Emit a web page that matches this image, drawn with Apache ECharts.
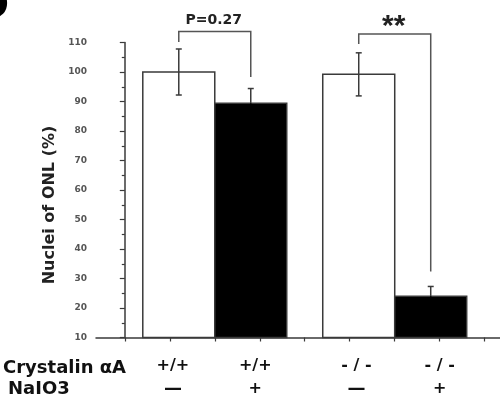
<!DOCTYPE html>
<html><head><meta charset="utf-8">
<script src="https://cdn.jsdelivr.net/npm/echarts@6/dist/echarts.min.js"></script>
<style>html,body{margin:0;padding:0;background:#fff}#c{width:500px;height:398px}</style>
</head><body><div id="c"></div>
<script>
// ---- data ----
const crystalin = ['+/+', '+/+', '- / -', '- / -'];
const naio3 = ['\u2014', '+', '\u2014', '+'];
const barX = [1.2, 2.8, 5.2, 6.8];          // bar centres on the x value axis
const values = [100, 89.4, 99.2, 24.0];
const errors = [7.8, 5.0, 7.3, 3.3];
const treated = [false, true, false, true];  // black bars = NaIO3 treated
const labelX = [1.07, 2.9, 5.15, 7.0];
const xTicks = [0, 1, 2, 3, 4, 5, 6, 7, 8];
const bracketPairs = [[0, 1], [2, 3]];
const bracketTop = [113.75, 112.85];
const bracketLeftEnd = [110.2, 109.5];
const bracketRightEnd = [98.3, 32.4];
const bracketText = ['P=0.27', '**'];

const BAR_W = 1.6;
const LINE = '#3a3a3a';
const FONT = 'DejaVu Sans, Liberation Sans, Arial';

const chart = echarts.init(document.getElementById('c'), null, {renderer: 'canvas'});

const option = {
  animation: false,
  backgroundColor: '#fff',
  grid: {left: 96, top: 42.5, width: 406, height: 298.5, containLabel: false},
  xAxis: {
    type: 'value', min: -0.64, max: 8.34,
    axisLine: {show: true, lineStyle: {color: LINE, width: 1.5}},
    axisTick: {show: true, customValues: xTicks, length: 4, inside: false, lineStyle: {color: LINE, width: 1.2}},
    axisLabel: {
      show: true, customValues: labelX, margin: 17,
      formatter: function (v) {
        let idx = 0, best = 1e9;
        labelX.forEach((p, i) => { const d = Math.abs(p - v); if (d < best) { best = d; idx = i; } });
        const second = naio3[idx] === '\u2014' ? '{d|' + naio3[idx] + '}' : '{b|' + naio3[idx] + '}';
        return '{a|' + crystalin[idx] + '}\n' + second;
      },
      rich: {
        a: {fontFamily: FONT, fontWeight: 'bold', fontSize: 16, color: '#111', lineHeight: 23},
        b: {fontFamily: FONT, fontWeight: 'bold', fontSize: 16, color: '#111', lineHeight: 23},
        d: {fontFamily: FONT, fontWeight: 'bold', fontSize: 18, color: '#111', lineHeight: 23}
      }
    },
    splitLine: {show: false}
  },
  yAxis: {
    type: 'value', min: 10, max: 110, interval: 10,
    axisLine: {show: true, lineStyle: {color: LINE, width: 1.5}},
    axisTick: {show: true, length: 5, inside: false, lineStyle: {color: LINE, width: 1.2}},
    minorTick: {show: true, splitNumber: 2, length: 3, lineStyle: {color: LINE, width: 1.2}},
    axisLabel: {fontFamily: FONT, fontWeight: 'bold', fontSize: 9, color: '#555', margin: 9},
    splitLine: {show: false}
  },
  series: [
    {
      type: 'custom', name: 'bars', clip: false, z: 2,
      data: values.map((v, i) => [barX[i], v, i]),
      encode: {x: 0, y: 1},
      renderItem: function (params, api) {
        const x = api.value(0), v = api.value(1), i = api.value(2);
        const p1 = api.coord([x - BAR_W / 2, v]);
        const p2 = api.coord([x + BAR_W / 2, 10]);
        return {
          type: 'rect',
          shape: {x: p1[0], y: p1[1], width: p2[0] - p1[0], height: p2[1] - p1[1]},
          style: {fill: treated[i] ? '#000' : '#fff', stroke: LINE, lineWidth: 1.5}
        };
      }
    },
    {
      type: 'custom', name: 'errors', clip: false, z: 3,
      data: values.map((v, i) => [barX[i], v, errors[i], i]),
      encode: {x: 0, y: 1},
      renderItem: function (params, api) {
        const x = api.value(0), v = api.value(1), e = api.value(2), i = api.value(3);
        const c = api.coord([x, v]);
        const t = api.coord([x, v + e]);
        const b = api.coord([x, v - e]);
        const low = treated[i] ? '#000' : LINE;
        return {
          type: 'group',
          children: [
            {type: 'line', shape: {x1: c[0], y1: c[1], x2: t[0], y2: t[1]}, style: {stroke: LINE, lineWidth: 1.5}},
            {type: 'line', shape: {x1: t[0] - 3, y1: t[1], x2: t[0] + 3, y2: t[1]}, style: {stroke: LINE, lineWidth: 1.5}},
            {type: 'line', shape: {x1: c[0], y1: c[1], x2: b[0], y2: b[1]}, style: {stroke: low, lineWidth: 1.5}},
            {type: 'line', shape: {x1: b[0] - 3, y1: b[1], x2: b[0] + 3, y2: b[1]}, style: {stroke: low, lineWidth: 1.5}}
          ]
        };
      }
    },
    {
      type: 'custom', name: 'brackets', clip: false, z: 4,
      data: bracketPairs.map((p, k) => [barX[p[0]], barX[p[1]], bracketTop[k], bracketLeftEnd[k], bracketRightEnd[k], k]),
      encode: {x: [0, 1], y: 2},
      renderItem: function (params, api) {
        const xa = api.value(0), xb = api.value(1), top = api.value(2), le = api.value(3), re = api.value(4), k = api.value(5);
        const a1 = api.coord([xa, le]), a2 = api.coord([xa, top]);
        const b2 = api.coord([xb, top]), b1 = api.coord([xb, re]);
        const star = bracketText[k].indexOf('*') >= 0;
        return {
          type: 'group',
          children: [
            {type: 'polyline', shape: {points: [a1, a2, b2, b1]}, style: {stroke: '#555', lineWidth: 1.5, fill: null}},
            {type: 'text', x: (a2[0] + b2[0]) / 2 - 1, y: star ? a2[1] + 8 : a2[1] - 11,
             style: {text: bracketText[k], fontFamily: star ? 'Liberation Sans, Arial' : FONT, fontWeight: 'bold',
                     fontSize: star ? 30 : 14, fill: '#222', align: 'center', verticalAlign: star ? 'bottom' : 'middle'}}
          ]
        };
      }
    }
  ],
  graphic: [
    {type: 'text', left: -24, top: -12, style: {text: 'D', fontFamily: FONT, fontWeight: 'bold', fontSize: 40, fill: '#000'}},
    {type: 'text', x: 50, y: 205, rotation: Math.PI / 2,
     style: {text: 'Nuclei of ONL (%)', fontFamily: FONT, fontWeight: 'bold', fontSize: 16,
             fill: '#222', align: 'center', verticalAlign: 'middle'}},
    {type: 'text', x: 3, y: 368.5, style: {text: 'Crystalin \u03b1A', fontFamily: FONT, fontWeight: 'bold', fontSize: 18, fill: '#111', verticalAlign: 'middle'}},
    {type: 'text', x: 8, y: 389, style: {text: 'NaIO3', fontFamily: FONT, fontWeight: 'bold', fontSize: 18, fill: '#111', verticalAlign: 'middle'}}
  ]
};
chart.setOption(option);
</script>
</body></html>
